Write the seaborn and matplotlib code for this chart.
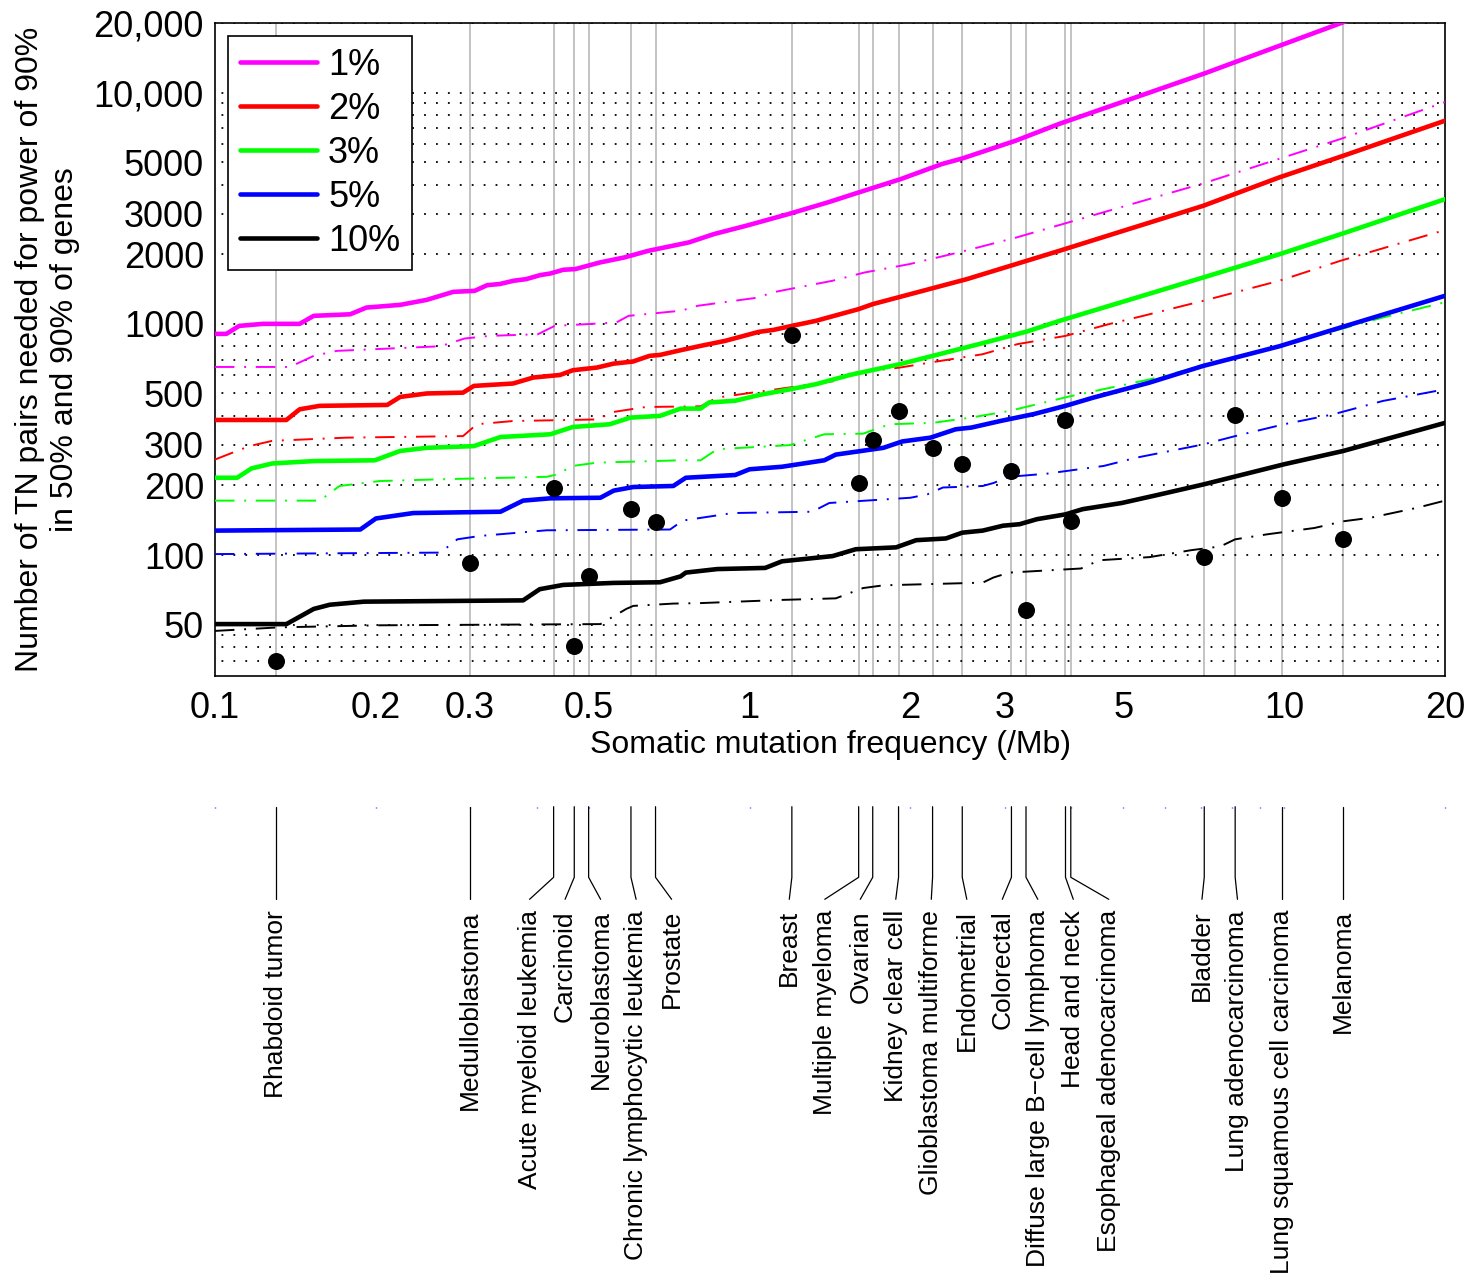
"""
Sample size needed vs somatic mutation frequency, with tumor types
"""
import numpy as np
import pandas as pd
import matplotlib
matplotlib.use("Agg")
import matplotlib.pyplot as plt
from matplotlib.lines import Line2D
from matplotlib.ticker import FixedLocator, NullFormatter, NullLocator
import seaborn as sns

# --- curves: (mutation frequency /Mb, TN pairs needed) ---
# solid = power of 90% in 90% of genes, dash-dot = in 50% of genes
MAG_90_X = [0.1, 0.105, 0.111, 0.123, 0.144, 0.153, 0.179, 0.192, 0.222, 0.249, 0.279, 0.306, 0.323,
            0.341, 0.362, 0.382, 0.406, 0.424, 0.448, 0.472, 0.525, 0.583, 0.647, 0.77, 0.858, 0.985,
            1.18, 1.4, 1.6, 1.92, 2.29, 2.5, 3.15, 3.8, 7.06, 12.75, 14.0]
MAG_90_Y = [905, 905, 980, 1000, 1000, 1083, 1100, 1176, 1208, 1270, 1375, 1389, 1470,
            1487, 1536, 1561, 1625, 1651, 1713, 1725, 1843, 1937, 2070, 2250, 2445, 2655,
            2980, 3350, 3700, 4230, 4910, 5190, 6200, 7330, 12050, 19950, 21600]

MAG_50_X = [0.1, 0.138, 0.153, 0.169, 0.264, 0.293, 0.326, 0.402, 0.432, 0.563, 0.594, 0.745, 0.80,
            1.04, 1.1, 1.43, 1.64, 1.99, 2.46, 3.15, 3.8, 7.06, 12.75, 20.0]
MAG_50_Y = [651, 651, 727, 764, 800, 864, 887, 902, 980, 1013, 1083, 1140, 1197,
            1300, 1366, 1536, 1667, 1812, 2035, 2360, 2675, 4050, 6300, 9100]

RED_90_X = [0.1, 0.136, 0.144, 0.157, 0.21, 0.222, 0.249, 0.291, 0.305, 0.361, 0.394, 0.442, 0.467,
            0.518, 0.557, 0.605, 0.65, 0.68, 0.743, 0.81, 0.9, 1.04, 1.11, 1.2, 1.33, 1.6, 1.7,
            2.55, 3.8, 7.06, 9.8, 12.9, 20.0]
RED_90_Y = [384, 384, 427, 442, 446, 483, 500, 504, 539, 552, 586, 601, 630,
            647, 673, 687, 727, 734, 769, 803, 844, 923, 942, 980, 1030, 1158, 1217,
            1561, 2070, 3240, 4300, 5330, 7560]

RED_50_X = [0.1, 0.116, 0.128, 0.176, 0.291, 0.309, 0.361, 0.518, 0.557, 0.64, 0.81, 0.87, 1.21,
            1.45, 1.58, 1.91, 2.28, 2.73, 3.17, 3.9, 4.7, 5.45, 7.06, 9.8, 12.75, 20.0]
RED_50_Y = [259, 296, 312, 322, 327, 368, 380, 386, 416, 437, 440, 480, 534,
            567, 615, 647, 692, 739, 817, 887, 997, 1083, 1258, 1536, 1874, 2545]

GRN_90_X = [0.1, 0.11, 0.117, 0.128, 0.153, 0.199, 0.222, 0.249, 0.305, 0.342, 0.424, 0.467, 0.548,
            0.598, 0.68, 0.743, 0.81, 0.84, 0.94, 1.045, 1.19, 1.33, 1.54, 1.91, 2.73, 3.3, 3.8,
            7.06, 9.8, 12.75, 20.0]
GRN_90_Y = [216, 216, 237, 249, 255, 257, 282, 291, 296, 324, 333, 358, 368,
            393, 400, 430, 430, 457, 465, 493, 521, 548, 601, 669, 825, 926, 1030,
            1587, 2000, 2440, 3460]

GRN_50_X = [0.1, 0.157, 0.171, 0.203, 0.27, 0.417, 0.436, 0.467, 0.518, 0.743, 0.81, 0.87, 1.19,
            1.38, 1.63, 1.83, 2.2, 2.59, 3.06, 3.96, 5.6, 8.6, 15.3, 20.0]
GRN_50_Y = [172, 172, 199, 209, 213, 218, 223, 243, 251, 257, 257, 287, 299,
            333, 335, 368, 373, 393, 420, 485, 575, 739, 1065, 1240]

BLU_90_X = [0.1, 0.187, 0.2, 0.235, 0.342, 0.377, 0.424, 0.526, 0.557, 0.606, 0.72, 0.76, 0.94,
            1.0, 1.15, 1.38, 1.45, 1.78, 1.93, 2.18, 2.43, 2.6, 2.96, 3.4, 3.9, 4.4, 5.6, 7.06,
            9.8, 12.75, 20.0]
BLU_90_Y = [127.6, 129, 144, 152, 154, 172, 176, 177, 190, 197, 199, 216, 222,
            235, 241, 257, 272, 291, 310, 322, 350, 356, 381, 407, 442, 480, 557, 658,
            800, 964, 1322]

BLU_50_X = [0.1, 0.264, 0.284, 0.313, 0.417, 0.71, 0.75, 0.93, 1.31, 1.41, 2.0, 2.15, 2.3, 2.73,
            2.86, 3.06, 3.6, 4.6, 5.3, 7.06, 8.1, 10.0, 12.35, 15.3, 20.0]
BLU_50_Y = [101, 102.5, 117, 121, 128, 129, 141, 152, 154, 168, 177, 183, 196, 199,
            205, 218, 225, 243, 264, 301, 327, 368, 406, 464, 521]

BLK_90_X = [0.1, 0.136, 0.153, 0.164, 0.19, 0.377, 0.405, 0.448, 0.557, 0.68, 0.743, 0.76, 0.87,
            1.07, 1.15, 1.43, 1.58, 1.88, 2.05, 2.33, 2.5, 2.73, 2.98, 3.2, 3.45, 3.9, 4.2, 4.97,
            5.8, 7.06, 10.0, 12.9, 20.0]
BLK_90_Y = [50.3, 50.3, 58.5, 61, 62.9, 63.7, 71.2, 74.3, 75.8, 76.3, 80.9, 84, 87,
            88, 94, 99, 106, 108, 116, 118, 125, 127.6, 134, 136, 143, 150, 158, 168,
            182, 202, 247, 282, 373]

BLK_50_X = [0.1, 0.132, 0.203, 0.526, 0.588, 0.606, 0.72, 0.81, 1.15, 1.45, 1.63, 1.78, 2.73,
            2.86, 3.06, 4.17, 4.51, 5.6, 6.7, 7.6, 8.1, 9.3, 11.4, 12.9, 14.5, 17.7, 20.0]
BLK_50_Y = [47, 48.7, 49.7, 50.3, 58.5, 60.3, 61.7, 62, 64, 65, 72, 74, 76,
            80, 84, 87.5, 95, 98, 105, 109, 117, 123, 131, 140, 145, 160, 172]

RATES = ["1%", "2%", "3%", "5%", "10%"]
COLORS = ["#ff00ff", "#ff0000", "#00ff00", "#0000ff", "#000000"]

# --- tumor types ---
TUMORS = ["Rhabdoid tumor", "Medulloblastoma", "Acute myeloid leukemia", "Carcinoid",
          "Neuroblastoma", "Chronic lymphocytic leukemia", "Prostate", "Breast",
          "Multiple myeloma", "Ovarian", "Kidney clear cell", "Glioblastoma multiforme",
          "Endometrial", "Colorectal", "Diffuse large B\u2212cell lymphoma", "Head and neck",
          "Esophageal adenocarcinoma", "Bladder", "Lung adenocarcinoma",
          "Lung squamous cell carcinoma", "Melanoma"]
TUMOR_FREQ = [0.13, 0.3, 0.43, 0.47, 0.5, 0.6, 0.667, 1.2, 1.6, 1.7, 1.9, 2.2, 2.5, 3.09, 3.29,
              3.9, 3.99, 7.09, 8.1, 9.9, 12.9]
TUMOR_PAIRS = [34.9, 92, 196, 40.6, 81.5, 158, 139, 893, 206, 314, 418, 290, 247, 231, 57.9,
               383, 141, 98.5, 404, 177, 117]

# --- axes ticks / grid ---
X_TICKS = [0.1, 0.2, 0.3, 0.5, 1, 2, 3, 5, 10, 20]
X_TICK_LABELS = ["0.1", "0.2", "0.3", "0.5", "1", "2", "3", "5", "10", "20"]
X_MINOR_MARKS = [0.4, 4, 6, 7, 8, 9]
Y_TICKS = [50, 100, 200, 300, 500, 1000, 2000, 3000, 5000, 10000, 20000]
Y_TICK_LABELS = ["50", "100", "200", "300", "500", "1000", "2000", "3000", "5000",
                 "10,000", "20,000"]
Y_DOTTED_ROWS = [35, 40, 45, 50, 100, 200, 300, 400, 500, 600, 700, 800, 900, 1000,
                 2000, 3000, 4000, 5000, 6000, 7000, 8000, 9000, 10000, 20000]

CURVES = [
    ("1%", "90%", MAG_90_X, MAG_90_Y), ("1%", "50%", MAG_50_X, MAG_50_Y),
    ("2%", "90%", RED_90_X, RED_90_Y), ("2%", "50%", RED_50_X, RED_50_Y),
    ("3%", "90%", GRN_90_X, GRN_90_Y), ("3%", "50%", GRN_50_X, GRN_50_Y),
    ("5%", "90%", BLU_90_X, BLU_90_Y), ("5%", "50%", BLU_50_X, BLU_50_Y),
    ("10%", "90%", BLK_90_X, BLK_90_Y), ("10%", "50%", BLK_50_X, BLK_50_Y),
]


def spread_labels(xs, gap):
    """Spread label positions (log space) so neighbours are at least `gap` decades apart."""
    logs = np.log10(np.asarray(xs, dtype=float))
    order = list(np.argsort(logs))
    groups = [[i] for i in order]

    def place(g):
        n = len(g)
        return logs[g].mean() + gap * (np.arange(n) - (n - 1) / 2)

    changed = True
    while changed:
        changed = False
        for k in range(len(groups) - 1):
            a, b = place(groups[k]), place(groups[k + 1])
            if b[0] - a[-1] < gap - 1e-9:
                groups[k] = groups[k] + groups[k + 1]
                del groups[k + 1]
                changed = True
                break
    out = np.empty(len(logs))
    for g in groups:
        out[g] = place(g)
    return 10 ** out


sns.set_theme(style="white", rc={"axes.edgecolor": "black", "text.color": "black",
                                 "axes.labelcolor": "black", "xtick.color": "black",
                                 "ytick.color": "black"})
plt.rcParams["font.family"] = ["Liberation Sans", "DejaVu Sans"]

rows = []
for rate, genes, xs, ys in CURVES:
    for x, y in zip(xs, ys):
        rows.append({"freq": x, "pairs": y, "rate": rate, "genes": genes})
df = pd.DataFrame(rows)
tumors = pd.DataFrame({"tumor": TUMORS, "freq": TUMOR_FREQ, "pairs": TUMOR_PAIRS})

W, H = 1483, 1280
fig = plt.figure(figsize=(W / 100, H / 100), dpi=100)
ax_l, ax_r, ax_t, ax_b = 215, 1445, 23, 676
ax = fig.add_axes([ax_l / W, 1 - ax_b / H, (ax_r - ax_l) / W, (ax_b - ax_t) / H])
ax.set_xscale("log")
ax.set_yscale("log")

# grid: grey verticals at tumor frequencies, dotted rows
for f in TUMOR_FREQ:
    ax.axvline(f, color="#b9b9b9", lw=1.2, zorder=1)
for v in Y_DOTTED_ROWS:
    ax.axhline(v, color="black", lw=1.3, linestyle=(3, (1, 5.6)), zorder=1)

sns.lineplot(data=df, x="freq", y="pairs", hue="rate", hue_order=RATES,
             palette=dict(zip(RATES, COLORS)), size="genes",
             sizes={"90%": 3.3, "50%": 1.4}, style="genes",
             dashes={"90%": "", "50%": (10, 5, 1, 5)},
             estimator=None, sort=False, legend=False, ax=ax, zorder=3)

sns.scatterplot(data=tumors, x="freq", y="pairs", color="black", s=150, linewidth=0,
                legend=False, ax=ax, zorder=4)

ax.set_xlim(0.1, 20)
ax.set_ylim(30, 20000)
ax.set_xticks(X_TICKS, X_TICK_LABELS)
ax.xaxis.set_minor_locator(FixedLocator(X_MINOR_MARKS))
ax.xaxis.set_minor_formatter(NullFormatter())
ax.set_yticks(Y_TICKS, Y_TICK_LABELS)
ax.yaxis.set_minor_locator(NullLocator())
ax.tick_params(axis="x", which="both", direction="in", length=6, width=1, pad=11,
               labelsize=26, top=False)
ax.tick_params(axis="y", which="both", length=0, pad=8, labelsize=26)
for s in ax.spines.values():
    s.set_visible(True)
    s.set_color("black")
    s.set_linewidth(1.2)

ax.set_xlabel("Somatic mutation frequency (/Mb)", fontsize=23, labelpad=3)
ax.set_ylabel("Number of TN pairs needed for power of 90%\nin 50% and 90% of genes",
              fontsize=23)
ax.yaxis.set_label_coords(-0.11, 0.5)

handles = [Line2D([0], [0], color=c, lw=3.3) for c in COLORS]
leg = ax.legend(handles, RATES, loc="upper left", fontsize=26, frameon=True, fancybox=False,
                framealpha=1, edgecolor="black", borderaxespad=0.36, borderpad=0.32,
                handlelength=2.15, handletextpad=0.3, labelspacing=0.25)
leg.get_frame().set_linewidth(1.2)
leg.set_zorder(10)

# --- tumor labels below the chart ---
lab_top = 806.7
ax_lab = fig.add_axes([ax_l / W, 0, (ax_r - ax_l) / W, 1 - lab_top / H])
ax_lab.set_xscale("log")
ax_lab.set_xlim(0.1, 20)
ax_lab.set_ylim(0, 1)
for s in ax_lab.spines.values():
    s.set_visible(False)
ax_lab.set_yticks([])
ax_lab.xaxis.tick_top()
ax_lab.set_xticks(X_TICKS + X_MINOR_MARKS)
ax_lab.xaxis.set_minor_locator(NullLocator())
ax_lab.tick_params(axis="x", length=1, width=1, color="#3030ff", labeltop=False,
                   labelbottom=False, direction="in")
ax_lab.patch.set_alpha(0)

lab_h = H - lab_top
y_bend = 1 - (877.3 - lab_top) / lab_h
y_end = 1 - (899.3 - lab_top) / lab_h
y_text = 1 - (910 - lab_top) / lab_h
label_x = spread_labels(TUMOR_FREQ, 35.5 / 534.5)
for name, f, lx in zip(TUMORS, TUMOR_FREQ, label_x):
    ax_lab.plot([f, f, lx], [1, y_bend, y_end], color="black", lw=0.9, clip_on=False)
    ax_lab.text(lx, y_text, name, rotation=90, ha="center", va="top", fontsize=19,
                clip_on=False)

fig.savefig("out.png", dpi=100)
